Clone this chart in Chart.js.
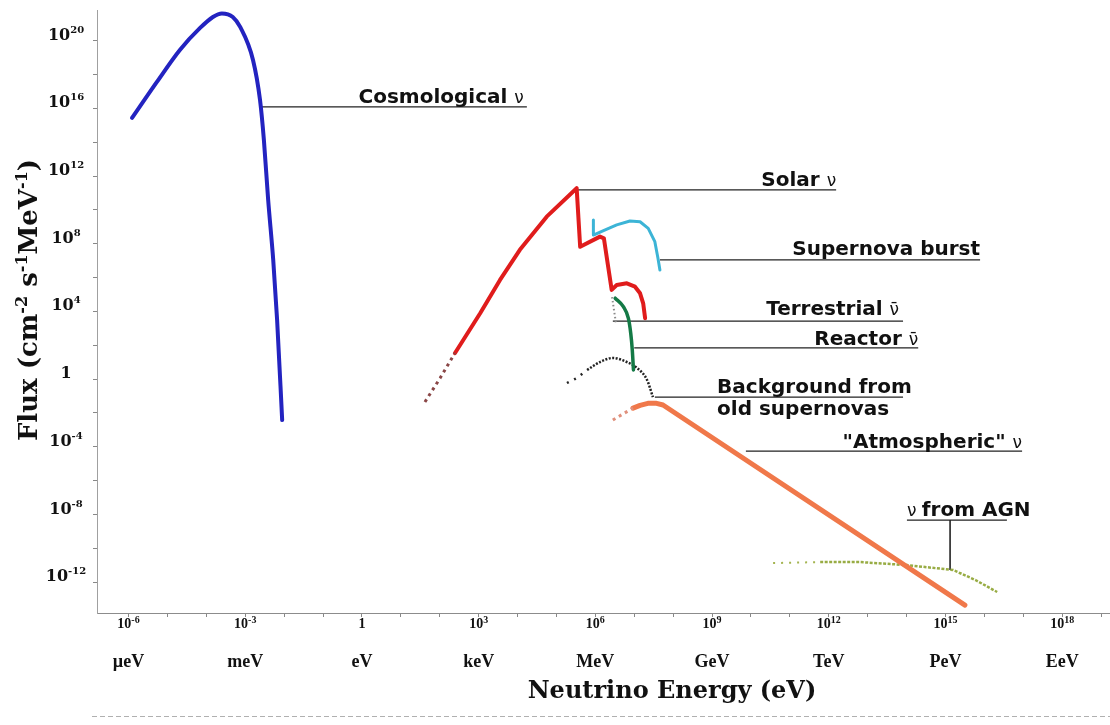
<!DOCTYPE html>
<html>
<head>
<meta charset="utf-8">
<title>Neutrino flux spectrum</title>
<script src="https://cdn.jsdelivr.net/npm/chart.js@4.4.1/dist/chart.umd.min.js"></script>
<style>
  html, body { margin: 0; padding: 0; background: #fff; }
  #wrap { width: 1110px; height: 725px; }
</style>
</head>
<body>
<div id="wrap"><canvas id="chart" width="1110" height="725"></canvas></div>
<script>
// all values are log10 (energy in eV, flux in cm-2 s-1 MeV-1)
const xTickExp = [-6, -3, 0, 3, 6, 9, 12, 15, 18];
const xUnits = ["µeV", "meV", "eV", "keV", "MeV", "GeV", "TeV", "PeV", "EeV"];
const yTickExp = [20, 16, 12, 8, 4, 0, -4, -8, -12];

const cosmoE = [-5.91, -5.27, -4.68, -4.16, -3.83, -3.60, -3.32, -3.13, -2.80, -2.62, -2.52, -2.41, -2.28, -2.18, -2.05];
const cosmoF = [15.43, 17.56, 19.45, 20.75, 21.40, 21.61, 21.40, 20.81, 18.86, 16.50, 14.13, 10.59, 7.04, 3.49, -2.42];

const solarTailE = [1.62, 2.01, 2.39];
const solarTailF = [-1.35, 0.06, 1.54];
const solarE = [2.39, 3.04, 3.55, 4.06, 4.75, 5.52, 5.61, 6.12, 6.22, 6.33, 6.42, 6.55, 6.81, 7.02, 7.15, 7.23, 7.28];
const solarF = [1.53, 3.89, 5.86, 7.64, 9.60, 11.28, 7.82, 8.42, 8.32, 6.64, 5.27, 5.56, 5.66, 5.46, 5.07, 4.48, 3.59];

const burstE = [5.95, 5.95, 6.21, 6.55, 6.89, 7.15, 7.36, 7.53, 7.61, 7.66];
const burstF = [9.40, 8.51, 8.77, 9.11, 9.34, 9.30, 8.91, 8.12, 7.14, 6.45];

const terrE = [6.43, 6.48, 6.53];
const terrF = [4.85, 4.08, 3.32];

const reactorE = [6.51, 6.72, 6.85, 6.91, 6.95, 6.98];
const reactorF = [4.78, 4.28, 3.59, 2.71, 1.72, 0.54];

const oldSnTailE = [5.27, 5.53, 5.79];
const oldSnTailF = [-0.23, 0.07, 0.54];
const oldSnE = [5.79, 6.12, 6.45, 6.81, 7.07, 7.33, 7.48];
const oldSnF = [0.54, 1.01, 1.25, 1.01, 0.66, -0.05, -1.06];

const atmoTailE = [6.45, 6.71, 6.97];
const atmoTailF = [-2.42, -2.06, -1.71];
const atmoE = [6.97, 7.15, 7.35, 7.55, 7.74, 15.50];
const atmoF = [-1.71, -1.55, -1.43, -1.42, -1.53, -13.35];

const agnTailE = [10.57, 11.78];
const agnTailF = [-10.87, -10.81];
const agnE = [11.78, 12.80, 14.01, 15.20, 15.77, 16.33];
const agnF = [-10.81, -10.81, -10.99, -11.28, -11.87, -12.58];

// leader lines from each curve to its caption
const leaderFromE = [-2.57, 5.53, 7.66, 6.45, 7.00, 7.53, 9.87, 14.01];
const leaderToE = [4.24, 12.19, 15.89, 13.91, 14.30, 13.91, 16.97, 16.58];
const leaderF = [16.08, 11.18, 7.04, 3.43, 1.84, -1.06, -4.25, -8.33];
const agnDropE = 15.12;
const agnDropF = -11.28;

const xMinExp = -6.81, xMaxExp = 19.23;
const yMinExp = -13.82, yMaxExp = 21.81;

function pts(es, fs) {
  return es.map((e, i) => ({ x: Math.pow(10, e), y: Math.pow(10, fs[i]) }));
}
function curve(es, fs, color, width, extra) {
  return Object.assign({
    data: pts(es, fs), borderColor: color, borderWidth: width,
    showLine: true, pointRadius: 0, tension: 0, fill: false,
    borderCapStyle: "round", borderJoinStyle: "round"
  }, extra || {});
}

const datasets = [
  curve(cosmoE, cosmoF, "#2323c0", 4, { cubicInterpolationMode: "monotone" }),
  curve(solarTailE, solarTailF, "#8a4646", 3, { borderDash: [3, 4], borderCapStyle: "butt" }),
  curve(solarE, solarF, "#e01c1c", 4),
  curve(burstE, burstF, "#3cb4d6", 3),
  curve(terrE, terrF, "#8a8a8a", 2, { borderDash: [1.5, 2.5], borderCapStyle: "butt" }),
  curve(reactorE, reactorF, "#147a46", 3.5, { cubicInterpolationMode: "monotone" }),
  curve(oldSnTailE, oldSnTailF, "#222", 2.5, { borderDash: [2, 6], borderCapStyle: "butt" }),
  curve(oldSnE, oldSnF, "#222", 2.5, { borderDash: [2, 1.5], borderCapStyle: "butt", cubicInterpolationMode: "monotone" }),
  curve(atmoTailE, atmoTailF, "#e0907c", 3, { borderDash: [3, 4], borderCapStyle: "butt" }),
  curve(atmoE, atmoF, "#f0784a", 5),
  curve(agnTailE, agnTailF, "#a4b450", 2, { borderDash: [2, 6], borderCapStyle: "butt" }),
  curve(agnE, agnF, "#98ac44", 2.5, { borderDash: [3, 1.5], borderCapStyle: "butt" })
];
leaderFromE.forEach((e, i) => {
  datasets.push(curve([e, leaderToE[i]], [leaderF[i], leaderF[i]], "#222", 1.2, { borderCapStyle: "butt" }));
});
datasets.push(curve([agnDropE, agnDropE], [leaderF[7], agnDropF], "#333", 1, { borderCapStyle: "butt" }));

// captions, anchored on the leader lines
const notes = [
  { text: "Cosmological", nu: "ν", lead: 0, align: "right", dx: -3, dy: -4 },
  { text: "Solar", nu: "ν", lead: 1, align: "right", dx: 0, dy: -4 },
  { text: "Supernova burst", nu: "", lead: 2, align: "right", dx: 0, dy: -5 },
  { text: "Terrestrial", nu: "ν̄", lead: 3, align: "right", dx: -4, dy: -6 },
  { text: "Reactor", nu: "ν̄", lead: 4, align: "right", dx: 0, dy: -3 },
  { text: "Background from", nu: "", lead: 5, align: "left", atE: 9.13, dy: -4 },
  { text: "old supernovas", nu: "", lead: 5, align: "left", atE: 9.13, dy: 18 },
  { text: "\"Atmospheric\"", nu: "ν", lead: 6, align: "right", dx: 0, dy: -3 },
  { text: "from AGN", pre: "ν", lead: 7, align: "left", dx: 0, dy: -4 }
];

const BOLD_SANS = "bold 20px 'DejaVu Sans'";
const NU_FONT = "17px 'DejaVu Sans'";

function drawPieces(ctx, pieces, x, y, align) {
  let total = 0;
  pieces.forEach(p => { ctx.font = p[1]; total += ctx.measureText(p[0]).width; });
  let cx = align === "center" ? x - total / 2 : align === "right" ? x - total : x;
  ctx.textAlign = "left";
  pieces.forEach(p => {
    ctx.font = p[1];
    ctx.fillText(p[0], cx, y - p[2]);
    cx += ctx.measureText(p[0]).width;
  });
}
function powPieces(e, font, supFont, raise) {
  if (e === 0) return [["1", font, 0]];
  return [["10", font, 0], [String(e), supFont, raise]];
}

const textPlugin = {
  id: "texts",
  afterDraw(chart) {
    const { ctx, scales } = chart;
    const x = scales.x, y = scales.y;
    ctx.save();
    ctx.fillStyle = "#111";
    ctx.textBaseline = "alphabetic";

    // x tick numbers and unit names
    xTickExp.forEach((e, i) => {
      const px = x.getPixelForValue(Math.pow(10, e));
      drawPieces(ctx, powPieces(e, "bold 14px 'Liberation Serif'", "bold 10px 'Liberation Serif'", 5), px, 628, "center");
      ctx.font = "bold 18px 'Liberation Serif'";
      ctx.textAlign = "center";
      ctx.fillText(xUnits[i], px, 667);
    });

    // y tick numbers
    yTickExp.forEach(e => {
      const py = y.getPixelForValue(Math.pow(10, e));
      drawPieces(ctx, powPieces(e, "bold 16px 'DejaVu Serif'", "bold 10px 'DejaVu Serif'", 7), 66, py - 1, "center");
    });

    // axis titles
    ctx.font = "bold 24px 'DejaVu Serif'";
    ctx.textAlign = "center";
    ctx.fillText("Neutrino Energy (eV)", 672, 698);

    ctx.save();
    ctx.translate(27, 300);
    ctx.rotate(-Math.PI / 2);
    const F = "bold 26px 'DejaVu Serif'", S = "bold 16px 'DejaVu Serif'";
    drawPieces(ctx, [["Flux (cm", F, 0], ["-2", S, 10], [" s", F, 0], ["-1", S, 10],
      ["MeV", F, 0], ["-1", S, 10], [")", F, 0]], 0, 10, "center");
    ctx.restore();

    // captions
    notes.forEach(n => {
      const ly = y.getPixelForValue(Math.pow(10, leaderF[n.lead]));
      let lx;
      if (n.atE !== undefined) lx = x.getPixelForValue(Math.pow(10, n.atE));
      else if (n.align === "right") lx = x.getPixelForValue(Math.pow(10, leaderToE[n.lead]));
      else lx = x.getPixelForValue(Math.pow(10, leaderFromE[n.lead]));
      lx += n.dx || 0;
      const pieces = [];
      if (n.pre) pieces.push([n.pre + " ", NU_FONT, 0]);
      pieces.push([n.text + (n.nu ? " " : ""), BOLD_SANS, 0]);
      if (n.nu) pieces.push([n.nu, NU_FONT, 0]);
      drawPieces(ctx, pieces, lx, ly + n.dy, n.align);
    });

    // faint scan line along the bottom
    ctx.strokeStyle = "#b0b0b0";
    ctx.lineWidth = 1;
    ctx.setLineDash([5, 3]);
    ctx.beginPath();
    ctx.moveTo(92, 716.5);
    ctx.lineTo(1110, 716.5);
    ctx.stroke();
    ctx.restore();
  }
};

const xMinor = [];
for (let e = -6; e <= 19; e++) xMinor.push(e);
const yMinor = [];
for (let e = -12; e <= 20; e += 2) yMinor.push(e);

new Chart(document.getElementById("chart"), {
  type: "scatter",
  data: { datasets: datasets },
  options: {
    responsive: false,
    animation: false,
    devicePixelRatio: 1,
    layout: { padding: { top: 10, right: 0, bottom: 0, left: 0 } },
    plugins: { legend: { display: false }, tooltip: { enabled: false } },
    scales: {
      x: {
        type: "logarithmic",
        min: Math.pow(10, xMinExp),
        max: Math.pow(10, xMaxExp),
        bounds: "data",
        afterBuildTicks: s => { s.ticks = xMinor.map(e => ({ value: Math.pow(10, e) })); },
        afterFit: s => { s.height = 112; },
        ticks: { display: false },
        grid: { drawOnChartArea: false, drawTicks: true, tickLength: 4, color: "#888" },
        border: { color: "#8c8c8c", dash: [3, 2], width: 1 }
      },
      y: {
        type: "logarithmic",
        min: Math.pow(10, yMinExp),
        max: Math.pow(10, yMaxExp),
        bounds: "data",
        afterBuildTicks: s => { s.ticks = yMinor.map(e => ({ value: Math.pow(10, e) })); },
        afterFit: s => { s.width = 97; },
        ticks: { display: false },
        grid: { drawOnChartArea: false, drawTicks: true, tickLength: 4, color: "#888" },
        border: { color: "#a0a0a0", dash: [2, 3], width: 1 }
      }
    }
  },
  plugins: [textPlugin]
});
</script>
</body>
</html>
